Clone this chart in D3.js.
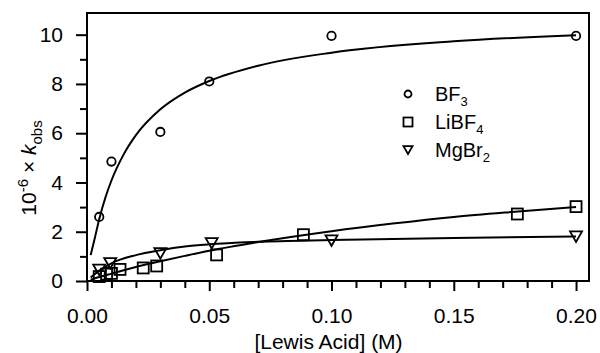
<!DOCTYPE html>
<html>
<head>
<meta charset="utf-8">
<script src="https://cdn.jsdelivr.net/npm/d3@7"></script>
<style>
  body { margin: 0; background: #fff; }
  svg { display: block; font-family: "Liberation Sans", Arial, sans-serif; }
  .axis text { font-size: 21px; fill: #000; }
</style>
</head>
<body>
<div id="chart"></div>
<script>
// measured points
const bf3 = [[0.005, 2.6], [0.01, 4.85], [0.03, 6.05], [0.05, 8.1], [0.1, 9.95], [0.2, 9.95]];
const libf4 = [[0.005, 0.18], [0.008, 0.28], [0.01, 0.31], [0.0135, 0.47], [0.023, 0.53], [0.0285, 0.61],
  [0.053, 1.06], [0.0885, 1.88], [0.176, 2.72], [0.2, 3.02]];
const mgbr2 = [[0.005, 0.45], [0.0095, 0.72], [0.03, 1.12], [0.051, 1.53], [0.1, 1.64], [0.2, 1.8]];

// fitted curves
const bf3Fit = [[0.0015, 1.05], [0.003, 1.66], [0.005, 2.51], [0.0075, 3.38], [0.01, 4.08], [0.015, 5.14],
  [0.02, 5.92], [0.03, 6.97], [0.04, 7.65], [0.05, 8.12], [0.07, 8.74], [0.1, 9.27], [0.15, 9.73], [0.2, 9.98]];
const libf4Fit = [[0.0015, 0.05], [0.005, 0.16], [0.01, 0.3], [0.02, 0.57], [0.03, 0.8], [0.04, 1.02],
  [0.05, 1.23], [0.07, 1.58], [0.1, 2.02], [0.125, 2.33], [0.15, 2.6], [0.175, 2.81], [0.2, 3.0]];
const mgbr2Fit = [[0.0015, 0.14], [0.005, 0.42], [0.01, 0.72], [0.02, 1.05], [0.03, 1.25], [0.04, 1.4],
  [0.05, 1.49], [0.07, 1.59], [0.1, 1.66], [0.15, 1.75], [0.2, 1.81]];

const xMajor = [0, 0.05, 0.1, 0.15, 0.2];
const xMinor = [0.01, 0.02, 0.03, 0.04, 0.06, 0.07, 0.08, 0.09, 0.11, 0.12, 0.13, 0.14, 0.16, 0.17, 0.18, 0.19];
const yMajor = [0, 2, 4, 6, 8, 10];
const yMinor = [1, 3, 5, 7, 9];

const W = 600, H = 353;
const margin = { top: 13, right: 11, bottom: 72, left: 87 };
const width = W - margin.left - margin.right;
const height = H - margin.top - margin.bottom;

const svg = d3.select('#chart').append('svg')
  .attr('width', W)
  .attr('height', H);

const g = svg.append('g')
  .attr('transform', `translate(${margin.left},${margin.top})`);

const x = d3.scaleLinear().domain([0, 0.2053]).range([0, width]);
const y = d3.scaleLinear().domain([0, 10.88]).range([height, 0]);

// axes: major with labels, minor without
g.append('g')
  .attr('class', 'axis')
  .attr('transform', `translate(0,${height})`)
  .call(d3.axisBottom(x).tickValues(xMajor).tickSize(10).tickPadding(17).tickFormat(d3.format('.2f')));
g.append('g')
  .attr('class', 'axis')
  .attr('transform', `translate(0,${height})`)
  .call(d3.axisBottom(x).tickValues(xMinor).tickSize(7).tickFormat(''));
g.append('g')
  .attr('class', 'axis')
  .call(d3.axisLeft(y).tickValues(yMajor).tickSize(11).tickPadding(13).tickFormat(d3.format('d')));
g.append('g')
  .attr('class', 'axis')
  .call(d3.axisLeft(y).tickValues(yMinor).tickSize(7).tickFormat(''));

g.selectAll('.axis path').remove();
g.selectAll('.axis line').attr('stroke', '#000').attr('stroke-width', 2);

// frame
g.append('path')
  .attr('d', `M0,${height}V0H${width}V${height}H0`)
  .attr('fill', 'none')
  .attr('stroke', '#000')
  .attr('stroke-width', 2);

// fit curves
const line = d3.line()
  .x(d => x(d[0]))
  .y(d => y(d[1]))
  .curve(d3.curveMonotoneX);

[bf3Fit, libf4Fit, mgbr2Fit].forEach(s => {
  g.append('path')
    .attr('d', line(s))
    .attr('fill', 'none')
    .attr('stroke', '#000')
    .attr('stroke-width', 2);
});

// markers
const triPath = (cx, cy, s) => {
  const h = s * 0.87;
  return `M${cx - s / 2},${cy - h / 2}H${cx + s / 2}L${cx},${cy + h / 2}Z`;
};

g.selectAll('.bf3').data(bf3).enter().append('circle')
  .attr('cx', d => x(d[0]))
  .attr('cy', d => y(d[1]))
  .attr('r', 4.2)
  .attr('fill', 'none')
  .attr('stroke', '#000')
  .attr('stroke-width', 1.8);

g.selectAll('.libf4').data(libf4).enter().append('rect')
  .attr('x', d => x(d[0]) - 5.5)
  .attr('y', d => y(d[1]) - 5.5)
  .attr('width', 11)
  .attr('height', 11)
  .attr('fill', 'none')
  .attr('stroke', '#000')
  .attr('stroke-width', 1.8);

g.selectAll('.mgbr2').data(mgbr2).enter().append('path')
  .attr('d', d => triPath(x(d[0]), y(d[1]), 12))
  .attr('fill', 'none')
  .attr('stroke', '#000')
  .attr('stroke-width', 1.8);

// legend
const legendItems = [
  { base: 'BF', sub: '3', shape: 'circle' },
  { base: 'LiBF', sub: '4', shape: 'square' },
  { base: 'MgBr', sub: '2', shape: 'triangle' }
];
const legend = svg.append('g').attr('transform', 'translate(408,94)');
legendItems.forEach((d, i) => {
  const row = legend.append('g').attr('transform', `translate(0,${i * 28})`);
  if (d.shape === 'circle') {
    row.append('circle').attr('r', 3.5).attr('fill', 'none').attr('stroke', '#000').attr('stroke-width', 1.8);
  } else if (d.shape === 'square') {
    row.append('rect').attr('x', -4.5).attr('y', -4.5).attr('width', 9).attr('height', 9)
      .attr('fill', 'none').attr('stroke', '#000').attr('stroke-width', 1.8);
  } else {
    row.append('path').attr('d', triPath(0, 0, 9)).attr('fill', 'none').attr('stroke', '#000').attr('stroke-width', 1.8);
  }
  const t = row.append('text').attr('x', 27).attr('y', 7).style('font-size', '20px');
  t.append('tspan').text(d.base);
  t.append('tspan').attr('dy', 5).style('font-size', '13px').text(d.sub);
});

// axis titles
svg.append('text')
  .attr('x', margin.left + x(0.1) - 3)
  .attr('y', 349)
  .attr('text-anchor', 'middle')
  .style('font-size', '21px')
  .text('[Lewis Acid] (M)');

const yt = svg.append('text')
  .attr('transform', 'translate(36,168) rotate(-90)')
  .attr('text-anchor', 'middle')
  .style('font-size', '21px');
yt.append('tspan').text('10');
yt.append('tspan').attr('dy', -8).style('font-size', '15px').text('-6');
yt.append('tspan').attr('dy', 8).text(' \u00d7 ');
yt.append('tspan').style('font-style', 'italic').text('k');
yt.append('tspan').attr('dy', 6).style('font-size', '15px').text('obs');
</script>
</body>
</html>
